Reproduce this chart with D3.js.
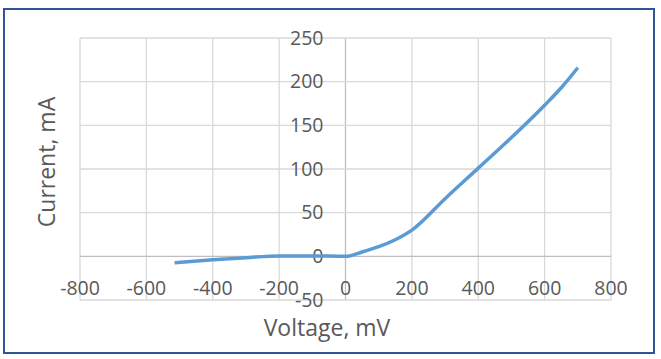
<!DOCTYPE html>
<html>
<head>
<meta charset="utf-8">
<script src="https://cdn.jsdelivr.net/npm/d3@7"></script>
<style>
  body { margin: 0; background: #fff; }
  text { font-family: "Open Sans", sans-serif; fill: #595959; }
</style>
</head>
<body>
<svg width="661" height="359"></svg>
<script>
var voltage = [-515, -400, -300, -200, -100, 0, 50, 100, 150, 200, 300, 400, 500, 600, 650, 700];
var current = [-7.5, -4, -1.5, 0.5, 0.5, 0, 5, 11, 19, 30, 66, 101, 136, 173, 193, 216];
var xTicks = [-800, -600, -400, -200, 0, 200, 400, 600, 800];
var yTicks = [-50, 0, 50, 100, 150, 200, 250];

var svg = d3.select("svg");

// outer frame
svg.append("rect")
  .attr("x", 4).attr("y", 9)
  .attr("width", 650).attr("height", 344)
  .attr("fill", "none")
  .attr("stroke", "#2F5597")
  .attr("stroke-width", 2);

var xScale = d3.scaleLinear().domain([-800, 800]).range([80, 611]);
var yScale = d3.scaleLinear().domain([-50, 250]).range([300, 38]);

var g = svg.append("g");

// grid
g.selectAll(".vgrid")
  .data(xTicks)
  .enter().append("line")
  .attr("x1", function(d) { return xScale(d); })
  .attr("x2", function(d) { return xScale(d); })
  .attr("y1", yScale(-50)).attr("y2", yScale(250))
  .attr("stroke", function(d) { return d === 0 ? "#bfbfbf" : "#d9d9d9"; })
  .attr("stroke-width", 1.3);

g.selectAll(".hgrid")
  .data(yTicks)
  .enter().append("line")
  .attr("x1", xScale(-800)).attr("x2", xScale(800))
  .attr("y1", function(d) { return yScale(d); })
  .attr("y2", function(d) { return yScale(d); })
  .attr("stroke", function(d) { return d === 0 ? "#bfbfbf" : "#d9d9d9"; })
  .attr("stroke-width", 1.3);

// tick labels
g.selectAll(".xlab")
  .data(xTicks)
  .enter().append("text")
  .attr("x", function(d) { return xScale(d); })
  .attr("y", yScale(0) + 32)
  .attr("dy", "0.35em")
  .attr("text-anchor", "middle")
  .style("font-size", "19.5px")
  .text(function(d) { return d; });

g.selectAll(".ylab")
  .data(yTicks)
  .enter().append("text")
  .attr("x", xScale(0) - 22)
  .attr("y", function(d) { return yScale(d); })
  .attr("dy", "0.35em")
  .attr("text-anchor", "end")
  .style("font-size", "19.5px")
  .text(function(d) { return d; });

// curve
var pts = voltage.map(function(v, i) { return [v, current[i]]; });
var line = d3.line()
  .x(function(d) { return xScale(d[0]); })
  .y(function(d) { return yScale(d[1]); })
  .curve(d3.curveMonotoneX);

g.append("path")
  .datum(pts)
  .attr("d", line)
  .attr("fill", "none")
  .attr("stroke", "#5B9BD5")
  .attr("stroke-width", 3.5)
  .attr("stroke-linejoin", "round");

// axis titles
svg.append("text")
  .attr("x", 327)
  .attr("y", 328)
  .attr("dy", "0.35em")
  .attr("text-anchor", "middle")
  .style("font-size", "23px")
  .text("Voltage, mV");

svg.append("text")
  .attr("transform", "translate(47,162) rotate(-90)")
  .attr("dy", "0.35em")
  .attr("text-anchor", "middle")
  .style("font-size", "23px")
  .text("Current, mA");
</script>
</body>
</html>
